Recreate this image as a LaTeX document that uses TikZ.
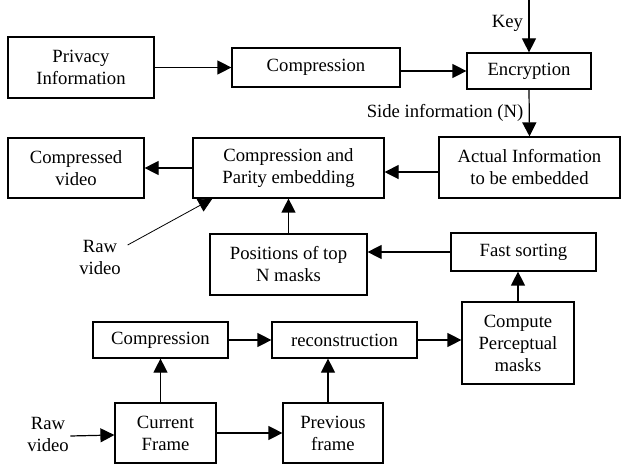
\documentclass[tikz,border=0pt]{standalone}
\usepackage{fontspec}
\setmainfont{Liberation Serif}
\usetikzlibrary{arrows.meta,positioning}

\begin{document}
\begin{tikzpicture}[x=0.75pt,y=-0.75pt,
  box/.style={draw,line width=0.9pt,align=center,inner sep=2pt,
    font=\fontsize{14}{16.5}\selectfont},
  lbl/.style={align=center,inner sep=1pt,font=\fontsize{14}{16.5}\selectfont},
  arr/.style={-{Triangle[length=10.5pt,width=10.5pt]},line width=0.9pt},
  thin/.style={-{Triangle[length=10.5pt,width=10.5pt]},line width=0.6pt}
]
  \useasboundingbox[fill=white] (0,0) rectangle (626,467);

  % top row
  \node[box,minimum width=109.5pt,minimum height=45.75pt] (priv) at (81,67.5) {Privacy\\Information};
  \node[box,minimum width=126pt,minimum height=29.25pt] (cmpa) at (316,67.5) {Compression};
  \node[box,minimum width=93pt,minimum height=27pt] (encr) at (529,71) {Encryption};
  \coordinate (keyin) at (529,0);
  \draw[arr] (priv) -- (cmpa);
  \draw[arr] (cmpa.east |- encr.west) -- (encr.west);
  \draw[arr] (keyin) -- node[lbl,left=3pt,pos=0.45] {Key} (encr.north);

  % embedding row
  \node[box,minimum width=135.75pt,minimum height=45.75pt] (actual) at (529.5,167.5) {Actual Information\\to be embedded};
  \node[box,minimum width=143.25pt,minimum height=45pt] (embed) at (288.5,168) {Compression and\\Parity embedding};
  \node[box,minimum width=102pt,minimum height=45pt] (cvid) at (76,168) {Compressed\\video};
  \node[lbl] (rawa) at (100,257) {Raw\\video};
  \draw[arr] (encr.south) -- node[lbl,left=3pt,pos=0.5] {Side information (N)} (actual.north);
  \draw[arr] ([yshift=-3.4pt]actual.west) -- ([yshift=-3.4pt]actual.west -| embed.east);
  \draw[arr] (embed) -- (cvid);
  \draw[thin] ([xshift=4pt,yshift=9pt]rawa.east) -- ([xshift=15pt]embed.south west);

  % masks
  \node[box,minimum width=117.75pt,minimum height=45.75pt] (pos) at (288.5,264.5) {Positions of top\\N masks};
  \node[box,minimum width=108.75pt,minimum height=28.5pt] (fast) at (523.5,252) {Fast sorting};
  \node[box,minimum width=84pt,minimum height=61.5pt] (perc) at (518,343) {Compute\\Perceptual\\masks};
  \draw[arr] (pos.north) -- (embed.south);
  \draw[arr] (fast.west) -- (fast.west -| pos.east);
  \draw[arr] (perc.north) -- (perc.north |- fast.south);

  % frames
  \node[box,minimum width=101.25pt,minimum height=27pt] (cmpb) at (160.5,340) {Compression};
  \node[box,minimum width=108.75pt,minimum height=27pt] (recon) at (344.5,340) {reconstruction};
  \node[box,minimum width=75.75pt,minimum height=45pt] (cur) at (165.5,433) {Current\\Frame};
  \node[box,minimum width=75pt,minimum height=45pt] (prev) at (333,433) {Previous\\frame};
  \node[lbl] (rawb) at (48,434) {Raw\\video};
  \draw[arr] (cmpb) -- (recon);
  \draw[arr] (recon.east) -- (recon.east -| perc.west);
  \draw[arr] (cmpb.south |- cur.north) -- (cmpb.south);
  \draw[arr] ([xshift=-3.75pt]prev.north) -- ([xshift=-3.75pt]prev.north |- recon.south);
  \draw[arr] (cur) -- (prev);
  \draw[arr] ([yshift=-1.5pt]rawb.east) -- ([yshift=-1.5pt]cur.west);
\end{tikzpicture}
\end{document}
